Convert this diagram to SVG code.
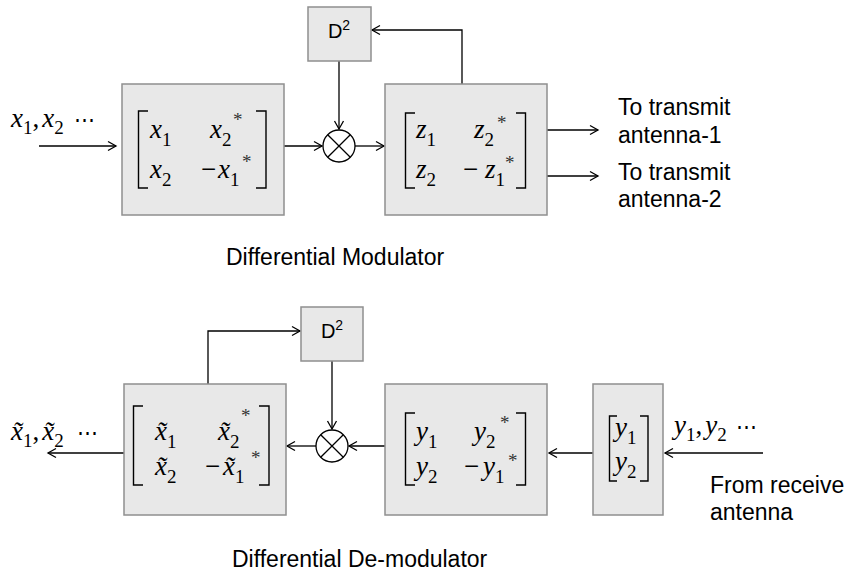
<svg xmlns="http://www.w3.org/2000/svg" width="846" height="572" viewBox="0 0 846 572">
<defs>
<marker id="arr" markerUnits="userSpaceOnUse" markerWidth="12" markerHeight="12" refX="9" refY="6" orient="auto">
<path d="M1,1.5 L9,6 L1,10.5" fill="none" stroke="#000" stroke-width="1.3"/>
</marker>
<style>
.box{fill:#e8e8e8;stroke:#8f8f8f;stroke-width:1.5}
.ln{fill:none;stroke:#000;stroke-width:1.3}
.br{fill:none;stroke:#000;stroke-width:1.4}
.sans{font-family:"Liberation Sans",Arial,sans-serif;font-size:23px;fill:#000}
.m{font-family:"Liberation Serif","Times New Roman",serif;font-size:27px;fill:#000}
.v{font-style:italic}
.s{font-size:19px;font-style:normal}
.st{font-family:"Liberation Serif","Times New Roman",serif;font-size:19px;fill:#333}
.dots{font-family:"DejaVu Serif","Liberation Serif",serif;font-size:21px}
.d{font-family:"Liberation Sans",Arial,sans-serif;font-size:20px;fill:#000}
</style>
</defs>
<rect width="846" height="572" fill="#fff"/>

<g id="connectors">
<path class="ln" d="M39,146 H116" marker-end="url(#arr)"/>
<path class="ln" d="M284,146 H322" marker-end="url(#arr)"/>
<path class="ln" d="M339,61 V129" marker-end="url(#arr)"/>
<path class="ln" d="M355,146 H384" marker-end="url(#arr)"/>
<path class="ln" d="M462,84 V30 H372" marker-end="url(#arr)"/>
<path class="ln" d="M547,130 H598" marker-end="url(#arr)"/>
<path class="ln" d="M547,176 H598" marker-end="url(#arr)"/>
<path class="ln" d="M208,384 V331 H300" marker-end="url(#arr)"/>
<path class="ln" d="M332,361 V429" marker-end="url(#arr)"/>
<path class="ln" d="M385,446 H349" marker-end="url(#arr)"/>
<path class="ln" d="M316,446 H287" marker-end="url(#arr)"/>
<path class="ln" d="M124,453 H48" marker-end="url(#arr)"/>
<path class="ln" d="M593,453 H549" marker-end="url(#arr)"/>
<path class="ln" d="M763,453 H665" marker-end="url(#arr)"/>
</g>

<g id="input-label">
<text class="m" x="11" y="127"><tspan class="v">x</tspan><tspan class="s" dy="7">1</tspan><tspan dy="-7">,</tspan><tspan class="v" dx="3">x</tspan><tspan class="s" dy="7">2</tspan></text>
<text class="m dots" x="74" y="127">⋯</text>
</g>

<g id="encoder">
<rect class="box" x="122" y="84" width="162" height="131"/>
<path class="br" d="M148,111 H138.5 V188 H148 M256,111 H266 V188 H256"/>
<text class="m" x="150" y="138"><tspan class="v">x</tspan><tspan class="s" dy="8">1</tspan></text>
<text class="m" x="210" y="138"><tspan class="v">x</tspan><tspan class="s" dy="8">2</tspan></text>
<text class="st" x="233" y="126">*</text>
<text class="m" x="150" y="178"><tspan class="v">x</tspan><tspan class="s" dy="8">2</tspan></text>
<text class="m" x="201" y="178">−</text>
<text class="m" x="218" y="178"><tspan class="v">x</tspan><tspan class="s" dy="8">1</tspan></text>
<text class="st" x="242" y="168">*</text>
</g>

<g id="delay-top">
<rect class="box" x="308" y="7" width="63" height="54"/>
<text class="d" x="339" y="38" text-anchor="middle">D<tspan font-size="14" dy="-8">2</tspan></text>
</g>

<g id="mult-top">
<circle class="ln" cx="339" cy="146" r="16"/>
<path class="ln" d="M327.7,134.7 L350.3,157.3 M350.3,134.7 L327.7,157.3"/>
</g>

<g id="output-matrix">
<rect class="box" x="385" y="84" width="162" height="131"/>
<path class="br" d="M415,113 H405.5 V188 H415 M516,113 H525.5 V188 H516"/>
<text class="m" x="416" y="138"><tspan class="v">z</tspan><tspan class="s" dy="8">1</tspan></text>
<text class="m" x="474" y="138"><tspan class="v">z</tspan><tspan class="s" dy="8">2</tspan></text>
<text class="st" x="497" y="129">*</text>
<text class="m" x="416" y="178"><tspan class="v">z</tspan><tspan class="s" dy="8">2</tspan></text>
<text class="m" x="463" y="178">−</text>
<text class="m" x="485" y="178"><tspan class="v">z</tspan><tspan class="s" dy="8">1</tspan></text>
<text class="st" x="505" y="169">*</text>
</g>

<g id="tx-labels">
<text class="sans" x="618" y="115">To transmit</text>
<text class="sans" x="618" y="143">antenna-1</text>
<text class="sans" x="618" y="180">To transmit</text>
<text class="sans" x="618" y="207">antenna-2</text>
</g>

<text class="sans" x="226" y="265">Differential Modulator</text>

<g id="output-label">
<text class="m" x="11" y="440"><tspan class="v">x̃</tspan><tspan class="s" dy="7">1</tspan><tspan dy="-7">,</tspan><tspan class="v" dx="3">x̃</tspan><tspan class="s" dy="7">2</tspan></text>
<text class="m dots" x="77" y="440">⋯</text>
</g>

<g id="decoder">
<rect class="box" x="124" y="384" width="162" height="131"/>
<path class="br" d="M143,406 H133.5 V485 H143 M259,406 H269 V485 H259"/>
<text class="m" x="155" y="440"><tspan class="v">x̃</tspan><tspan class="s" dy="8">1</tspan></text>
<text class="m" x="218" y="440"><tspan class="v">x̃</tspan><tspan class="s" dy="8">2</tspan></text>
<text class="st" x="241" y="422">*</text>
<text class="m" x="155" y="475"><tspan class="v">x̃</tspan><tspan class="s" dy="8">2</tspan></text>
<text class="m" x="205" y="475">−</text>
<text class="m" x="223" y="475"><tspan class="v">x̃</tspan><tspan class="s" dy="8">1</tspan></text>
<text class="st" x="251" y="464">*</text>
</g>

<g id="delay-bottom">
<rect class="box" x="301" y="307" width="62" height="54"/>
<text class="d" x="332" y="338" text-anchor="middle">D<tspan font-size="14" dy="-8">2</tspan></text>
</g>

<g id="mult-bottom">
<circle class="ln" cx="332" cy="446" r="16"/>
<path class="ln" d="M320.7,434.7 L343.3,457.3 M343.3,434.7 L320.7,457.3"/>
</g>

<g id="received-matrix">
<rect class="box" x="385" y="384" width="162" height="131"/>
<path class="br" d="M415,413 H405.5 V485 H415 M516,413 H525.5 V485 H516"/>
<text class="m" x="416" y="440"><tspan class="v">y</tspan><tspan class="s" dy="8">1</tspan></text>
<text class="m" x="474" y="440"><tspan class="v">y</tspan><tspan class="s" dy="8">2</tspan></text>
<text class="st" x="500" y="429">*</text>
<text class="m" x="416" y="475"><tspan class="v">y</tspan><tspan class="s" dy="8">2</tspan></text>
<text class="m" x="464" y="475">−</text>
<text class="m" x="483" y="475"><tspan class="v">y</tspan><tspan class="s" dy="8">1</tspan></text>
<text class="st" x="508" y="467">*</text>
</g>

<g id="received-vector">
<rect class="box" x="593" y="384" width="70" height="131"/>
<path class="br" d="M617,416 H609.5 V481 H617 M640,416 H648 V481 H640"/>
<text class="m" x="615" y="436"><tspan class="v">y</tspan><tspan class="s" dy="8">1</tspan></text>
<text class="m" x="615" y="470"><tspan class="v">y</tspan><tspan class="s" dy="8">2</tspan></text>
</g>

<g id="rx-label">
<text class="m" x="674" y="434"><tspan class="v">y</tspan><tspan class="s" dy="7">1</tspan><tspan dy="-7">,</tspan><tspan class="v" dx="3">y</tspan><tspan class="s" dy="7">2</tspan></text>
<text class="m dots" x="736" y="434">⋯</text>
<text class="sans" x="710" y="493">From receive</text>
<text class="sans" x="710" y="520">antenna</text>
</g>

<text class="sans" x="232" y="567">Differential De-modulator</text>
</svg>
